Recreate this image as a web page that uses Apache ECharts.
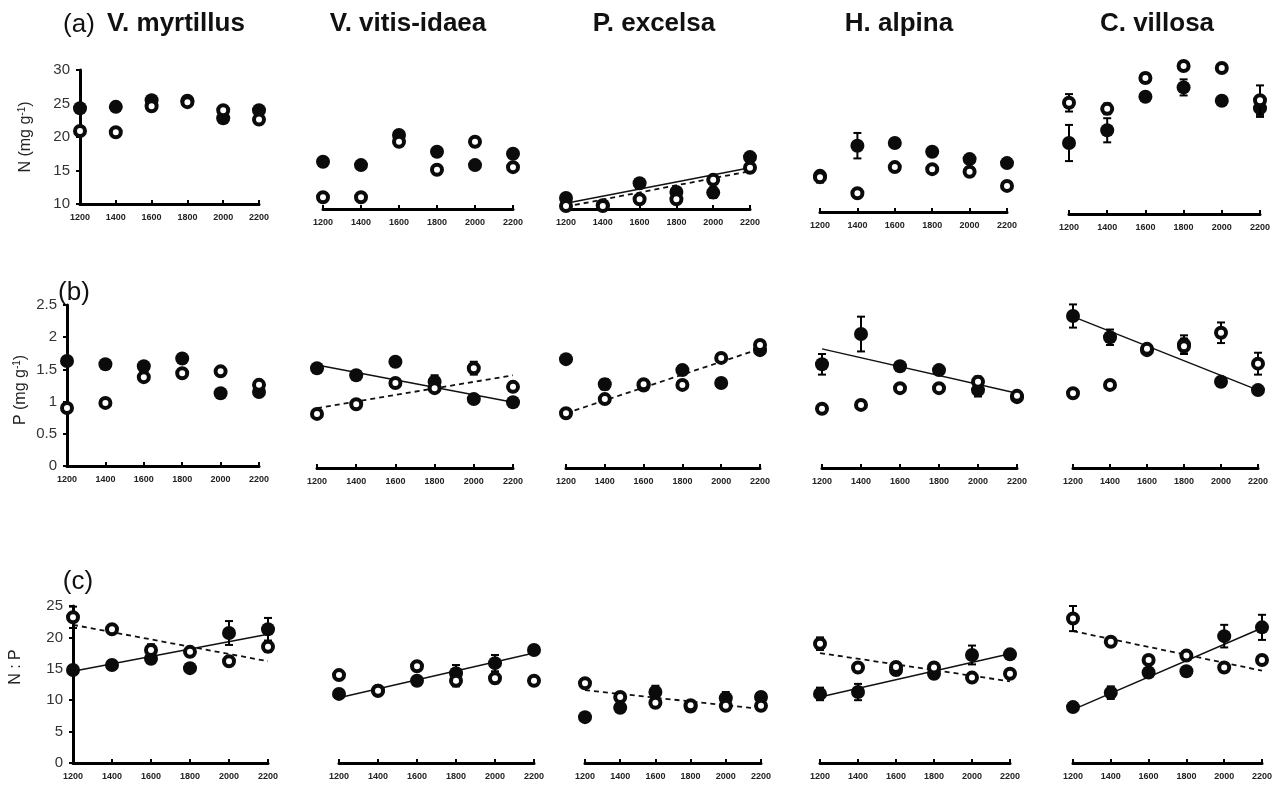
<!DOCTYPE html>
<html>
<head>
<meta charset="utf-8">
<script src="https://cdn.jsdelivr.net/npm/echarts@6/dist/echarts.min.js"></script>
<style>
html,body{margin:0;padding:0;background:#fff;}
#chart{width:1280px;height:786px;}
</style>
</head>
<body>
<div id="chart"></div>
<script>
var elev = [1200, 1400, 1600, 1800, 2000, 2200];
var species = ['V. myrtillus', 'V. vitis-idaea', 'P. excelsa', 'H. alpina', 'C. villosa'];

// (a) N (mg g-1) : one row per species, filled / open symbols
var N_filled = [
  [24.3, 24.5, 25.5, 25.4, 22.8, 24.0],
  [16.3, 15.8, 20.3, 17.8, 15.8, 17.5],
  [10.9, 9.8, 13.1, 11.8, 11.7, 17.0],
  [14.2, 18.7, 19.1, 17.8, 16.7, 16.1],
  [19.1, 21.0, 26.0, 27.4, 25.4, 24.3]
];
var N_open = [
  [20.9, 20.7, 24.6, 25.2, 24.0, 22.6],
  [11.0, 11.0, 19.3, 15.1, 19.3, 15.5],
  [9.7, 9.7, 10.7, 10.7, 13.6, 15.4],
  [14.0, 11.6, 15.5, 15.2, 14.8, 12.7],
  [25.1, 24.2, 28.8, 30.6, 30.3, 25.5]
];
var N_filled_err = [
  [0.4, 0.3, 0.4, 0.3, 0.4, 0.3],
  [0.3, 0.4, 0.4, 0.3, 0.3, 0.4],
  [0.4, 0.2, 0.3, 0.4, 0.8, 0.4],
  [0.5, 1.9, 0.6, 0.3, 0.5, 0.3],
  [2.7, 1.8, 0.6, 1.2, 0.6, 1.3]
];
var N_open_err = [
  [0.5, 0.5, 0.6, 0.3, 0.3, 0.3],
  [0.3, 0.6, 0.4, 0.5, 0.7, 0.6],
  [0.2, 0.2, 0.3, 0.4, 0.3, 0.4],
  [0.8, 0.3, 0.3, 0.3, 0.6, 0.3],
  [1.3, 0.8, 0.7, 0.3, 0.3, 2.2]
];
var N_line_filled = [null, null, [10.1, 15.4], null, null];
var N_line_open = [null, null, [9.6, 14.9], null, null];

// (b) P (mg g-1)
var P_filled = [
  [1.63, 1.58, 1.55, 1.67, 1.13, 1.15],
  [1.55, 1.44, 1.65, 1.34, 1.07, 1.02],
  [1.69, 1.30, 1.28, 1.52, 1.32, 1.83],
  [1.61, 2.08, 1.58, 1.52, 1.21, 1.10],
  [2.36, 2.03, 1.83, 1.92, 1.34, 1.21]
];
var P_open = [
  [0.90, 0.98, 1.38, 1.44, 1.47, 1.26],
  [0.84, 0.99, 1.32, 1.24, 1.55, 1.26],
  [0.85, 1.07, 1.30, 1.29, 1.71, 1.91],
  [0.92, 0.98, 1.24, 1.24, 1.34, 1.12],
  [1.16, 1.29, 1.85, 1.89, 2.10, 1.62]
];
var P_filled_err = [
  [0.04, 0.03, 0.04, 0.04, 0.06, 0.05],
  [0.05, 0.03, 0.03, 0.10, 0.05, 0.03],
  [0.03, 0.08, 0.03, 0.07, 0.04, 0.06],
  [0.16, 0.27, 0.04, 0.04, 0.10, 0.03],
  [0.18, 0.12, 0.04, 0.14, 0.06, 0.05]
];
var P_open_err = [
  [0.03, 0.03, 0.05, 0.04, 0.04, 0.04],
  [0.03, 0.03, 0.04, 0.04, 0.10, 0.04],
  [0.03, 0.05, 0.03, 0.03, 0.04, 0.06],
  [0.03, 0.05, 0.04, 0.04, 0.08, 0.03],
  [0.03, 0.04, 0.05, 0.12, 0.16, 0.17]
];
var P_line_filled = [null, [1.60, 1.02], null, [1.85, 1.16], [2.35, 1.21]];
var P_line_open = [null, [0.93, 1.44], [0.85, 1.85], null, null];

// (c) N : P
var NP_filled = [
  [14.8, 15.6, 16.6, 15.1, 20.7, 21.3],
  [11.0, 11.5, 13.1, 14.3, 15.9, 18.0],
  [7.3, 8.8, 11.3, 9.0, 10.3, 10.5],
  [11.0, 11.3, 14.8, 14.2, 17.2, 17.3],
  [8.9, 11.2, 14.4, 14.6, 20.2, 21.6]
];
var NP_open = [
  [23.2, 21.3, 18.0, 17.7, 16.2, 18.5],
  [14.0, 11.5, 15.4, 13.1, 13.5, 13.1],
  [12.7, 10.5, 9.6, 9.2, 9.1, 9.1],
  [19.0, 15.2, 15.3, 15.2, 13.6, 14.2],
  [23.0, 19.3, 16.4, 17.1, 15.2, 16.4]
];
var NP_filled_err = [
  [0.4, 0.5, 0.6, 0.5, 1.9, 1.8],
  [0.5, 0.4, 0.5, 1.3, 1.3, 0.5],
  [0.3, 0.6, 1.0, 0.5, 1.0, 0.5],
  [1.0, 1.3, 0.8, 0.6, 1.5, 0.5],
  [0.6, 1.0, 0.5, 0.5, 1.8, 2.0]
];
var NP_open_err = [
  [1.7, 0.5, 0.9, 0.5, 0.5, 0.8],
  [0.5, 0.5, 0.5, 0.9, 0.8, 0.5],
  [0.5, 0.5, 0.5, 0.6, 0.5, 0.5],
  [1.0, 0.5, 0.5, 0.5, 0.5, 0.5],
  [2.0, 0.5, 0.5, 0.5, 0.5, 0.5]
];
var NP_line_filled = [[14.6, 20.5], [10.4, 17.5], null, [10.5, 17.4], [8.5, 21.5]];
var NP_line_open = [[22.0, 16.2], null, [11.6, 8.6], [17.5, 13.0], [21.0, 14.7]];

var rowLabels = ['(a)', '(b)', '(c)'];
var yTicks = [[10, 30, 5], [0, 2.5, 0.5], [0, 25, 5]];

(function () {
  var rows = [
    {filled: N_filled, open: N_open, fErr: N_filled_err, oErr: N_open_err, lf: N_line_filled, lo: N_line_open},
    {filled: P_filled, open: P_open, fErr: P_filled_err, oErr: P_open_err, lf: P_line_filled, lo: P_line_open},
    {filled: NP_filled, open: NP_open, fErr: NP_filled_err, oErr: NP_open_err, lf: NP_line_filled, lo: NP_line_open}
  ];

  // panel placement (pixels); top row hidden axes run a bit higher than 30
  var place = [
    {bottom: [204, 209, 209, 212, 214], ymin: [10, 9.25, 9.25, 8.8, 8.5], ymax: [30, 32, 32, 32, 32],
     gTop: [70, 56.6, 56.6, 56.6, 56.6],
     xs: [[80, 259], [323, 513], [566, 750], [820, 1007], [1069, 1260]]},
    {bottom: [466, 468, 468, 468, 468], ymin: [0, 0, 0, 0, 0], ymax: [2.5, 2.5, 2.5, 2.5, 2.5], h: 161,
     xs: [[67, 259], [317, 513], [566, 760], [822, 1017], [1073, 1258]]},
    {bottom: [763, 763, 763, 763, 763], ymin: [0, 0, 0, 0, 0], ymax: [25, 25, 25, 25, 25], h: 157,
     xs: [[73, 268], [339, 534], [585, 761], [820, 1010], [1073, 1262]]}
  ];

  function errItem(params, api) {
    var x = api.value(0), lo = api.value(1), hi = api.value(2);
    var a = api.coord([x, lo]), b = api.coord([x, hi]);
    var w = 4;
    var st = {stroke: '#000', lineWidth: 2};
    return {type: 'group', children: [
      {type: 'line', shape: {x1: a[0], y1: a[1], x2: b[0], y2: b[1]}, style: st},
      {type: 'line', shape: {x1: a[0] - w, y1: a[1], x2: a[0] + w, y2: a[1]}, style: st},
      {type: 'line', shape: {x1: b[0] - w, y1: b[1], x2: b[0] + w, y2: b[1]}, style: st}
    ]};
  }

  var grids = [], xAxes = [], yAxes = [], series = [];
  var k = 0;
  for (var r = 0; r < 3; r++) {
    var pl = place[r], d = rows[r];
    for (var c = 0; c < 5; c++) {
      var bot = pl.bottom[c];
      var gTop = r === 0 ? pl.gTop[c] : bot - pl.h;
      grids.push({left: pl.xs[c][0], top: gTop, width: pl.xs[c][1] - pl.xs[c][0], height: bot - gTop});
      xAxes.push({
        gridIndex: k, type: 'value', min: 1200, max: 2200, interval: 200,
        splitLine: {show: false},
        axisLine: {onZero: false, lineStyle: {color: '#000', width: 3}},
        axisTick: {inside: true, length: 4, lineStyle: {color: '#000', width: 2}},
        axisLabel: {fontSize: 9, color: '#222', fontWeight: 'bold', margin: 9, fontFamily: 'Liberation Sans',
          formatter: function (v) { return String(v); }}
      });
      var ya = {
        gridIndex: k, type: 'value', show: c === 0,
        min: pl.ymin[c], max: pl.ymax[c],
        splitLine: {show: false},
        axisLine: {show: true, onZero: false, lineStyle: {color: '#000', width: 3}},
        axisTick: {show: true, length: 4, lineStyle: {color: '#000', width: 2}},
        axisLabel: {fontSize: 15, color: '#333', margin: 10, fontFamily: 'Liberation Sans'}
      };
      if (c === 0) ya.interval = yTicks[r][2];
      yAxes.push(ya);
      var lf = d.lf[c], lo = d.lo[c];
      if (lf) series.push({type: 'line', xAxisIndex: k, yAxisIndex: k, z: 1, symbol: 'none', silent: true,
        data: [[1200, lf[0]], [2200, lf[1]]], lineStyle: {color: '#111', width: 1.5}});
      if (lo) series.push({type: 'line', xAxisIndex: k, yAxisIndex: k, z: 1, symbol: 'none', silent: true,
        data: [[1200, lo[0]], [2200, lo[1]]], lineStyle: {color: '#111', width: 1.8, type: [5, 4]}});
      var fv = d.filled[c], ov = d.open[c], fe = d.fErr[c], oe = d.oErr[c];
      series.push({type: 'custom', xAxisIndex: k, yAxisIndex: k, z: 2, renderItem: errItem, clip: false,
        encode: {x: 0, y: [1, 2]},
        data: elev.map(function (x, i) { return [x, fv[i] - fe[i], fv[i] + fe[i]]; })});
      series.push({type: 'scatter', xAxisIndex: k, yAxisIndex: k, z: 3, symbol: 'circle', symbolSize: 14, clip: false,
        itemStyle: {color: '#0b0b0b', opacity: 1},
        data: elev.map(function (x, i) { return [x, fv[i]]; })});
      series.push({type: 'custom', xAxisIndex: k, yAxisIndex: k, z: 4, renderItem: errItem, clip: false,
        encode: {x: 0, y: [1, 2]},
        data: elev.map(function (x, i) { return [x, ov[i] - oe[i], ov[i] + oe[i]]; })});
      series.push({type: 'scatter', xAxisIndex: k, yAxisIndex: k, z: 5, symbol: 'circle', symbolSize: 10, clip: false,
        itemStyle: {color: '#fff', borderColor: '#0b0b0b', borderWidth: 4, opacity: 1},
        data: elev.map(function (x, i) { return [x, ov[i]]; })});
      k++;
    }
  }

  var titleX = [176, 408, 654, 899, 1157];
  var graphics = [];
  species.forEach(function (s, i) {
    graphics.push({type: 'text', x: titleX[i], y: 24, style: {text: s, font: 'bold 26px "Liberation Sans"',
      fill: '#111', textAlign: 'center', textVerticalAlign: 'middle'}});
  });
  var labPos = [[79, 25], [74, 293], [78, 582]];
  rowLabels.forEach(function (t, i) {
    graphics.push({type: 'text', x: labPos[i][0], y: labPos[i][1], style: {text: t, font: '26px "Liberation Sans"',
      fill: '#111', textAlign: 'center', textVerticalAlign: 'middle'}});
  });
  function axisName(txt, x, y) {
    return {type: 'text', x: x, y: y, rotation: Math.PI / 2,
      style: {text: txt, fill: '#222', font: '16px "Liberation Sans"', textAlign: 'center', textVerticalAlign: 'middle',
        rich: {sup: {fontSize: 10, verticalAlign: 'top', padding: [0, 0, 7, 0], fill: '#222'}}}};
  }
  graphics.push(axisName('N (mg g{sup|-1})', 26, 137));
  graphics.push(axisName('P (mg g{sup|-1})', 21, 390));
  graphics.push(axisName('N : P', 16, 667));

  var chart = echarts.init(document.getElementById('chart'));
  chart.setOption({
    animation: false,
    backgroundColor: '#fff',
    grid: grids,
    xAxis: xAxes,
    yAxis: yAxes,
    series: series,
    graphic: graphics
  });
})();
</script>
</body>
</html>
